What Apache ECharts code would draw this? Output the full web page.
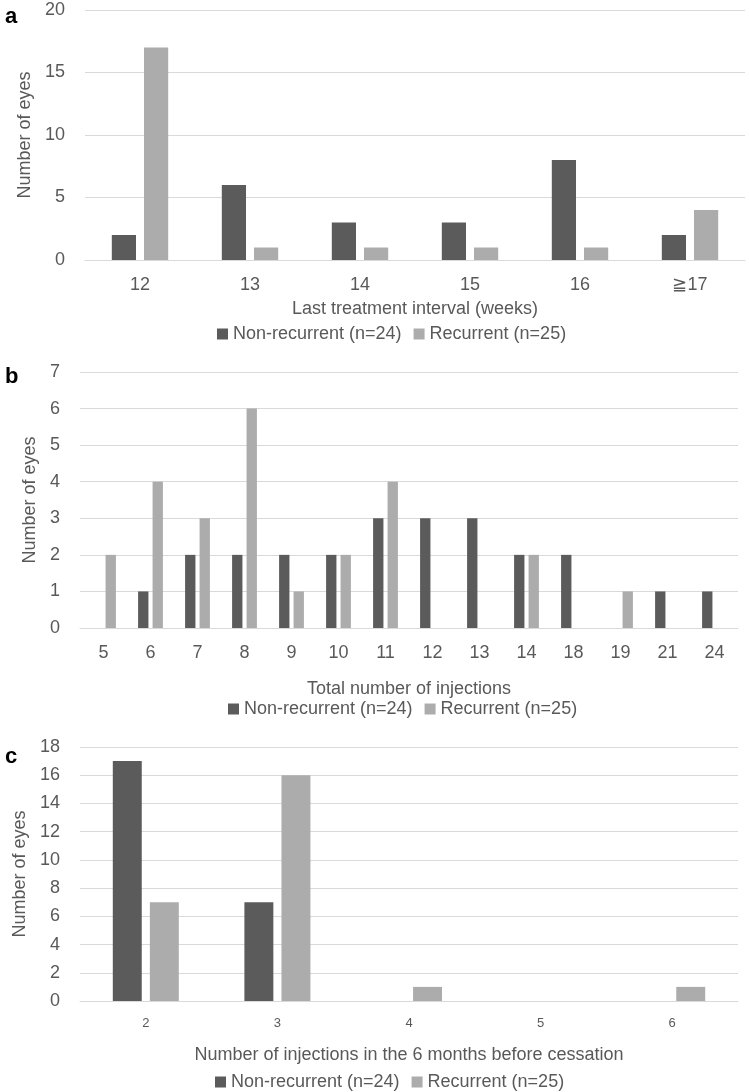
<!DOCTYPE html>
<html>
<head>
<meta charset="utf-8">
<script src="https://cdn.jsdelivr.net/npm/echarts@6/dist/echarts.min.js"></script>
<style>
  html, body { margin: 0; padding: 0; background: #fff; }
  #chart { width: 749px; height: 1092px; }
</style>
</head>
<body>
<div id="chart"></div>
<script>
// panel a - last treatment interval
const intervalCats = ['12', '13', '14', '15', '16', '≧17'];
const intervalNonRec = [2, 6, 3, 3, 8, 2];
const intervalRec = [17, 1, 1, 1, 1, 4];

// panel b - total injections
const totalCats = ['5', '6', '7', '8', '9', '10', '11', '12', '13', '14', '18', '19', '21', '24'];
const totalNonRec = [0, 1, 2, 2, 2, 2, 3, 3, 3, 2, 2, 0, 1, 1];
const totalRec = [2, 4, 3, 6, 1, 2, 4, 0, 0, 2, 0, 1, 0, 0];

// panel c - injections in last 6 months
const sixMonthCats = ['2', '3', '4', '5', '6'];
const sixMonthNonRec = [17, 7, 0, 0, 0];
const sixMonthRec = [7, 16, 1, 0, 1];

const NON = 'Non-recurrent (n=24)';
const REC = 'Recurrent (n=25)';
const dark = '#5b5b5b';
const light = '#acacac';
const grey = '#d9d9d9';
const txt = '#595959';
const font = '"Liberation Sans", Arial, sans-serif';

function xAx(idx, cats, name, gap, size) {
    return {
        type: 'category', gridIndex: idx, data: cats,
        axisTick: {show: false},
        axisLine: {lineStyle: {color: grey}},
        axisLabel: {color: txt, fontSize: size, fontFamily: font, margin: 16},
        name: name, nameLocation: 'middle', nameGap: gap,
        nameTextStyle: {color: txt, fontSize: 18, fontFamily: font}
    };
}
function yAx(idx, max, interval, gap) {
    return {
        type: 'value', gridIndex: idx, min: 0, max: max, interval: interval,
        axisLabel: {color: txt, fontSize: 18, fontFamily: font, margin: 20},
        splitLine: {lineStyle: {color: grey}},
        name: 'Number of eyes', nameLocation: 'middle', nameRotate: 90, nameGap: gap,
        nameTextStyle: {color: txt, fontSize: 18, fontFamily: font}
    };
}
function bars(idx, non, rec, gap) {
    return [
        {name: NON, type: 'bar', xAxisIndex: idx, yAxisIndex: idx, data: non,
         barWidth: '22%', barGap: gap, itemStyle: {color: dark}, silent: true},
        {name: REC, type: 'bar', xAxisIndex: idx, yAxisIndex: idx, data: rec,
         barWidth: '22%', barGap: gap, itemStyle: {color: light}, silent: true}
    ];
}
function leg(left, top) {
    return {
        data: [NON, REC], left: left, top: top, itemWidth: 11, itemHeight: 11,
        itemGap: 12, icon: 'rect',
        textStyle: {color: txt, fontSize: 18, fontFamily: font}
    };
}

const myChart = echarts.init(document.getElementById('chart'), null, {renderer: 'canvas'});
const option = {
    animation: false,
    backgroundColor: '#fff',
    grid: [
        {left: 85, right: 4, top: 10, height: 250},
        {left: 80, right: 11, top: 372, height: 256},
        {left: 80, right: 11, top: 747, height: 254}
    ],
    xAxis: [
        xAx(0, intervalCats, 'Last treatment interval (weeks)', 40, 18),
        xAx(1, totalCats, 'Total number of injections', 52, 18),
        xAx(2, sixMonthCats, 'Number of injections in the 6 months before cessation', 45, 13)
    ],
    yAxis: [
        yAx(0, 20, 5, 48),
        yAx(1, 7, 1, 37),
        yAx(2, 18, 2, 49)
    ],
    legend: [leg(212, 320), leg(223, 695), leg(210, 1068)],
    series: [].concat(
        bars(0, intervalNonRec, intervalRec, '33%'),
        bars(1, totalNonRec, totalRec, '40%'),
        bars(2, sixMonthNonRec, sixMonthRec, '28%')
    ),
    graphic: [
        {type: 'text', left: 5, top: 6, style: {text: 'a', fontSize: 22, fontWeight: 'bold', fill: '#000', fontFamily: font}},
        {type: 'text', left: 5, top: 366, style: {text: 'b', fontSize: 22, fontWeight: 'bold', fill: '#000', fontFamily: font}},
        {type: 'text', left: 5, top: 746, style: {text: 'c', fontSize: 22, fontWeight: 'bold', fill: '#000', fontFamily: font}}
    ]
};
myChart.setOption(option);
</script>
</body>
</html>
